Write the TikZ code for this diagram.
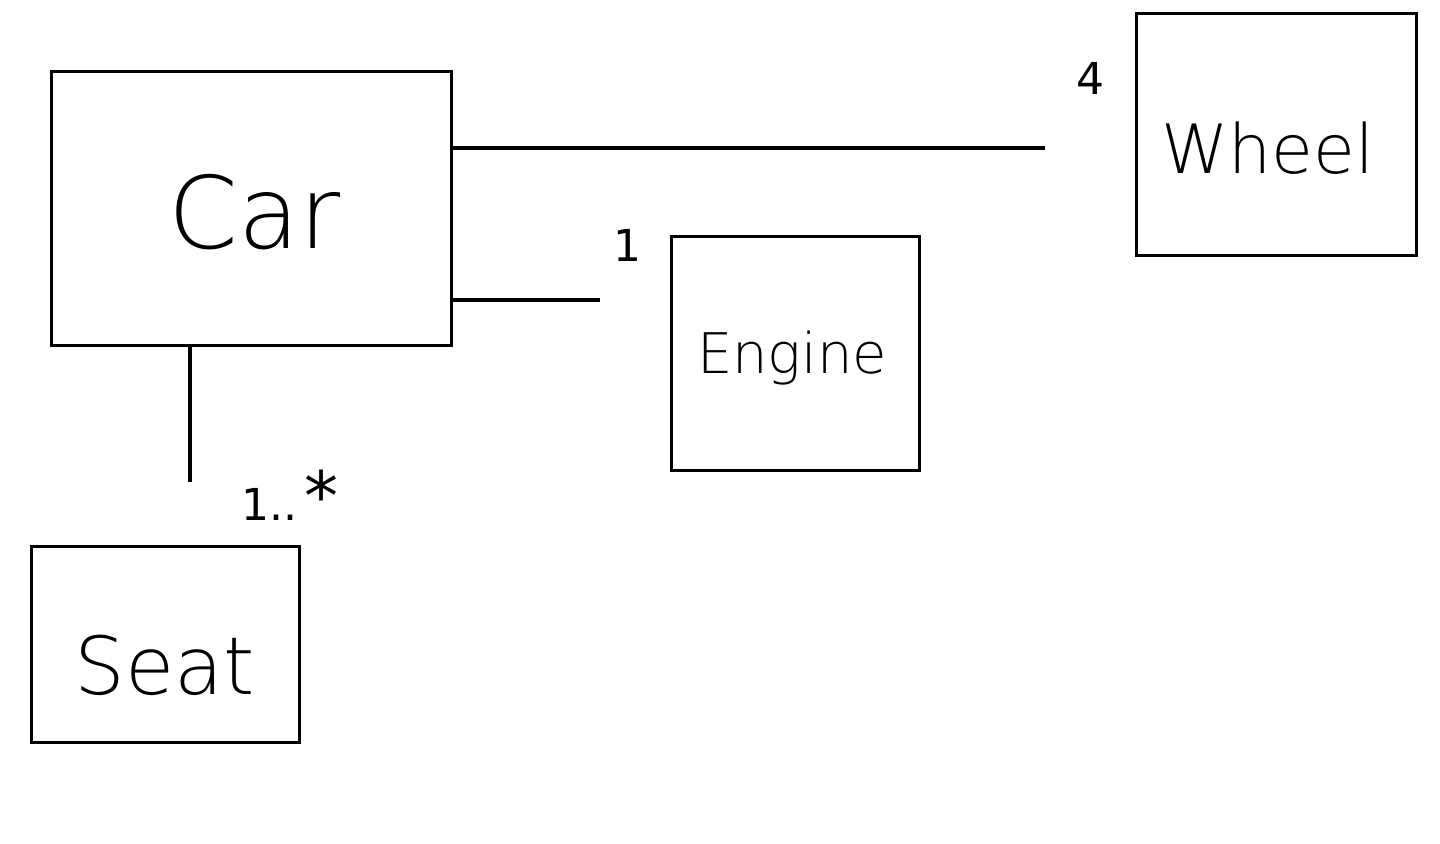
\documentclass[tikz,border=0pt]{standalone}
\usepackage{fontspec}
\setmainfont{DejaVu Sans}
\newfontfamily\thin{DejaVu Sans ExtraLight}
\tikzset{
  box/.style={draw, line width=1.7pt, inner sep=0pt, anchor=north west},
  lbl/.style={font=\fontsize{22}{24}\selectfont},
  conn/.style={line width=1.6pt}
}
\begin{document}
\begin{tikzpicture}[x=0.5pt,y=-0.5pt]
\useasboundingbox (0,0) rectangle (1440,844);
\node[box, minimum width=200pt, minimum height=137pt] (car) at (50,70) {};
\node[font=\fontsize{50}{56}\selectfont\thin] (cart) at (255,212) {Car};
\node[box, minimum width=140pt, minimum height=121pt] (wheel) at (1135,12) {};
\node[font=\fontsize{34}{40}\selectfont\thin] (wheelt) at (1268,148) {Wheel};
\node[box, minimum width=124pt, minimum height=117pt] (engine) at (670,235) {};
\node[font=\fontsize{28}{32}\selectfont\thin] (enginet) at (792,358) {Engine};
\node[box, minimum width=134pt, minimum height=98pt] (seat) at (30,545) {};
\node[font=\fontsize{40}{44}\selectfont\thin] (seatt) at (165,665) {Seat};
\coordinate (w1) at (1045,148);
\coordinate (e1) at (600,300);
\coordinate (s1) at (190,482);
\draw[conn] (car.east |- w1) -- (w1);
\draw[conn] (car.east |- e1) -- (e1);
\draw[conn] (car.south -| s1) -- (s1);
\node[lbl] (l4) at (1090,78) {4};
\node[lbl] (l1) at (627,245) {1};
\node[lbl] (lm) at (290,495) {1..\,\fontsize{34}{34}\selectfont*};
\end{tikzpicture}
\end{document}
